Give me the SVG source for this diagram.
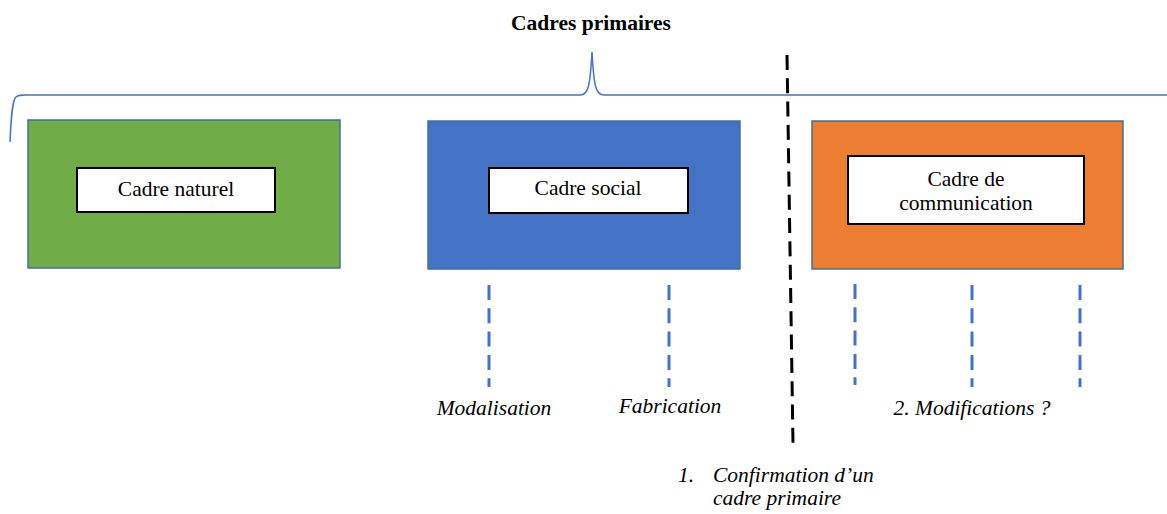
<svg xmlns="http://www.w3.org/2000/svg" width="1167" height="514" viewBox="0 0 1167 514" font-family="'Liberation Serif', 'DejaVu Serif', serif">
<style>
  text { font-family: "Liberation Serif", "DejaVu Serif", serif; font-size: 21.5px; fill: #000; }
  .title { font-weight: bold; }
  .it { font-style: italic; }
  .outer { stroke: #41719C; stroke-width: 1.5; }
  .inner { fill: #fff; stroke: #000; stroke-width: 2; }
  .blue-dash { stroke: #4472C4; stroke-width: 3; stroke-dasharray: 15 8.3; fill: none; }
  .black-dash { stroke: #000; stroke-width: 3; stroke-dasharray: 15 8.3; fill: none; }
  .brace { stroke: #4472C4; stroke-width: 1.5; fill: none; }
</style>
<rect width="1167" height="514" fill="#fff"/>

<g id="title">
  <text class="title" x="591" y="30" text-anchor="middle">Cadres primaires</text>
</g>

<g id="connectors">
  <path class="brace" d="M10,142 C11,120 12,100 16,97 C18,95 20,95 26,95 L580,95 C588,95 590,88 592,52 C594,88 596,95 604,95 L1167,95"/>
  <line class="black-dash" x1="787" y1="55" x2="793" y2="443"/>
  <line class="blue-dash" x1="489" y1="285" x2="489" y2="387"/>
  <line class="blue-dash" x1="669" y1="285" x2="669" y2="387"/>
  <line class="blue-dash" x1="855" y1="284" x2="855" y2="385"/>
  <line class="blue-dash" x1="972" y1="285" x2="972" y2="387"/>
  <line class="blue-dash" x1="1080" y1="285" x2="1080" y2="387"/>
</g>

<g id="cadre-naturel">
  <rect class="outer" x="28" y="120" width="312" height="148" fill="#70AD47"/>
  <rect class="inner" x="77" y="168" width="198" height="44"/>
  <text x="176" y="196" text-anchor="middle">Cadre naturel</text>
</g>

<g id="cadre-social">
  <rect class="outer" x="428" y="121" width="312" height="148" fill="#4472C4"/>
  <rect class="inner" x="489" y="168" width="199" height="45"/>
  <text x="588" y="195" text-anchor="middle">Cadre social</text>
</g>

<g id="cadre-communication">
  <rect class="outer" x="812" y="121" width="311" height="148" fill="#ED7D31"/>
  <rect class="inner" x="848" y="156" width="236" height="68"/>
  <text x="966" y="186" text-anchor="middle">Cadre de</text>
  <text x="966" y="210" text-anchor="middle">communication</text>
</g>

<g id="label-modalisation">
  <text class="it" x="494" y="415" text-anchor="middle">Modalisation</text>
</g>
<g id="label-fabrication">
  <text class="it" x="670" y="413" text-anchor="middle">Fabrication</text>
</g>
<g id="label-modifications">
  <text class="it" x="972" y="415" text-anchor="middle">2. Modifications ?</text>
</g>
<g id="label-confirmation">
  <text class="it" x="678" y="482">1.</text>
  <text class="it" x="713" y="482">Confirmation d’un</text>
  <text class="it" x="713" y="505">cadre primaire</text>
</g>
</svg>
